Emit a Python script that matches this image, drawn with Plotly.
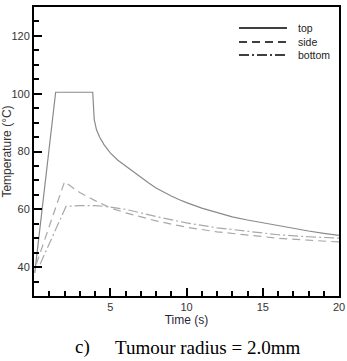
import plotly.graph_objects as go

# ---- data ----
t_top = [0.05, 1.42, 3.85, 3.95, 4.1, 4.3, 4.6, 5.0, 5.5, 6.0, 6.5, 7.0, 7.5, 8.0, 8.5, 9.0, 9.5,
         10.0, 11.0, 12.0, 13.0, 14.0, 15.0, 16.0, 17.0, 18.0, 19.0, 20.0]
temp_top = [38.0, 100.5, 100.5, 91.0, 87.5, 85.0, 82.3, 79.5, 77.0, 75.0, 73.0, 71.2, 69.2, 67.4, 65.9, 64.6, 63.4,
            62.3, 60.4, 58.8, 57.4, 56.3, 55.3, 54.3, 53.3, 52.5, 51.7, 51.0]

t_side = [0.15, 2.0, 3.0, 4.0, 5.0, 6.0, 8.0, 10.0, 12.0, 14.0, 16.0, 18.0, 20.0]
temp_side = [41.0, 69.5, 65.8, 63.0, 60.5, 58.8, 56.0, 53.8, 52.2, 51.0, 50.0, 49.3, 48.7]

t_bottom = [0.4, 2.1, 3.0, 4.0, 5.0, 6.0, 8.0, 10.0, 12.0, 14.0, 16.0, 18.0, 20.0]
temp_bottom = [41.0, 61.0, 61.3, 61.3, 60.8, 60.0, 57.5, 55.3, 53.6, 52.3, 51.2, 50.5, 50.0]

series_names = ["top", "side", "bottom"]
x_ticks = [5, 10, 15, 20]
y_ticks = [40, 60, 80, 100, 120]

dashes = ["solid", "8px,5px", "10px,3px,2px,3px"]
data_colors = ["#8a8a8a", "#a8a8a8", "#a8a8a8"]

fig = go.Figure()
for tx, ty, name, d, c in zip([t_top, t_side, t_bottom], [temp_top, temp_side, temp_bottom],
                              series_names, dashes, data_colors):
    fig.add_trace(go.Scatter(x=tx, y=ty, mode="lines", name=name, showlegend=False,
                             line=dict(color=c, width=1.2, dash=d)))

# compact legend (sample lines + labels) in the top-right corner
W, H = 347, 361
L, R, T, B = 34, 8, 7, 65
pw, ph = W - L - R, H - T - B
def px_x(p): return (p - L) / pw
def px_y(p): return 1 - (p - T) / ph
leg_rows = [28, 42, 55]
for name, d, yy in zip(series_names, dashes, leg_rows):
    fig.add_shape(type="line", xref="paper", yref="paper", x0=px_x(239), x1=px_x(287),
                  y0=px_y(yy), y1=px_y(yy), line=dict(color="black", width=1.3, dash=d))
    fig.add_annotation(text=name, xref="paper", yref="paper", x=px_x(296), y=px_y(yy),
                       xanchor="left", yanchor="middle", showarrow=False,
                       font=dict(family="Arial, Liberation Sans, sans-serif", size=10.5, color="#222"))

axis_font = dict(family="Arial, Liberation Sans, sans-serif", size=11, color="#333")
fig.update_layout(
    width=W, height=H,
    margin=dict(l=L, r=R, t=T, b=B),
    paper_bgcolor="white", plot_bgcolor="white",
    font=axis_font,
    showlegend=False,
    xaxis=dict(range=[0, 20], tickvals=x_ticks, ticks="inside", ticklen=8, tickwidth=1.5,
               tickcolor="black", showline=True, linecolor="black", linewidth=2, mirror=True,
               showgrid=False, zeroline=False, tickfont=axis_font, automargin=False,
               minor=dict(dtick=1, ticks="inside", ticklen=5, tickwidth=1.5, tickcolor="black", showgrid=False),
               title=dict(text="Time (s)", font=dict(size=12, color="#2a1f3a"), standoff=2)),
    yaxis=dict(range=[30, 130], tickvals=y_ticks, ticks="inside", ticklen=8, tickwidth=1.5,
               tickcolor="black", showline=True, linecolor="black", linewidth=2, mirror=True,
               showgrid=False, zeroline=False, tickfont=axis_font, automargin=False,
               minor=dict(dtick=5, ticks="inside", ticklen=5, tickwidth=1.5, tickcolor="black", showgrid=False),
               title=dict(text="Temperature (°C)", font=dict(size=12, color="#333"), standoff=2)),
)

cap_font = dict(family="Liberation Serif, Times New Roman, serif", size=19, color="black")
fig.add_annotation(text="c)", xref="paper", yref="paper", x=px_x(73), y=px_y(347),
                   xanchor="left", yanchor="middle", showarrow=False, font=cap_font)
fig.add_annotation(text="Tumour radius = 2.0mm", xref="paper", yref="paper", x=px_x(113), y=px_y(347),
                   xanchor="left", yanchor="middle", showarrow=False, font=cap_font)

fig.write_html("out.html")
